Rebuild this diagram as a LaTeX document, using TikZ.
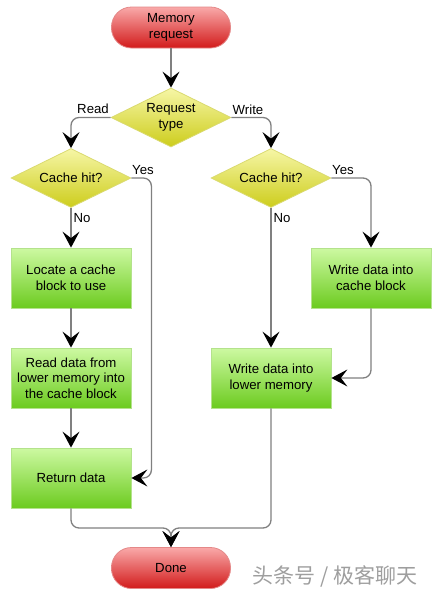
\documentclass[tikz,border=0pt]{standalone}
\usepackage{fontspec}
\setmainfont{Liberation Sans}
\newfontfamily\cjkfont{Noto Sans CJK SC}
\usetikzlibrary{shapes.geometric,arrows.meta,calc}
\definecolor{redtop}{HTML}{F9A9A9}
\definecolor{redbot}{HTML}{D21B1B}
\definecolor{redline}{HTML}{E48888}
\definecolor{yeltop}{HTML}{F6F6A6}
\definecolor{yelbot}{HTML}{CDCD1C}
\definecolor{yelline}{HTML}{DADA70}
\definecolor{grntop}{HTML}{CDF9A2}
\definecolor{grnbot}{HTML}{6CCB1F}
\definecolor{grnline}{HTML}{B4E28C}
\definecolor{conn}{HTML}{808080}
\begin{document}
\begin{tikzpicture}[x=1pt,y=-1pt,
  every node/.style={font=\fontsize{13.2}{15.5}\selectfont, text=black},
  lowered/.style={execute at begin node={\vspace*{3pt}}},
  term/.style={rectangle, rounded corners=20pt, minimum width=119pt, minimum height=41pt,
    draw=redline, line width=0.8pt, top color=redtop, bottom color=redbot, align=center, inner sep=0pt, lowered},
  decide/.style={diamond, shape aspect=2, minimum width=120pt, minimum height=59pt,
    draw=yelline, line width=0.8pt, top color=yeltop, bottom color=yelbot, align=center, inner sep=0pt, lowered},
  proc/.style={rectangle, minimum width=120pt, minimum height=60pt,
    draw=grnline, line width=0.8pt, top color=grntop, bottom color=grnbot, align=center, inner sep=0pt, lowered},
  conline/.style={draw=conn, line width=1.3pt, rounded corners=8pt},
  arr/.style={conline, -{Stealth[length=16pt, width=17pt, inset=6.5pt, color=black, fill=black]}},
  lbl/.style={inner sep=0pt}
]
\useasboundingbox (0,0) rectangle (438,595);
\node[term] (mem) at (171,27.5) {Memory\\request};
\node[decide] (req) at (171,117.5) {Request\\type};
\node[decide] (lc) at (71,178) {Cache hit?};
\node[decide] (rc) at (271,178) {Cache hit?};
\node[proc] (loc) at (71,278) {Locate a cache\\block to use};
\node[proc] (rdm) at (71,378) {Read data from\\lower memory into\\the cache block};
\node[proc] (ret) at (71,478) {Return data};
\node[proc] (wcb) at (371,278) {Write data into\\cache block};
\node[proc] (wlm) at (271,378) {Write data into\\lower memory};
\node[term] (done) at (171,568) {Done};
\coordinate (merge) at (171,528);

\draw[arr] (mem.south) -- (req.north);
\draw[arr] (req.west) -| (lc.north);
\draw[arr] (req.east) -| (rc.north);
\draw[arr] (lc.south) -- (loc.north);
\draw[arr] (loc.south) -- (rdm.north);
\draw[arr] (rdm.south) -- (ret.north);
\draw[arr] (lc.east) -- ++(20,0) |- (ret.east);
\draw[arr] (rc.east) -| (wcb.north);
\draw[arr] (rc.south) -- (wlm.north);
\draw[arr] (wcb.south) |- (wlm.east);
\draw[arr] (ret.south) |- (merge) -- (done.north);
\draw[arr] (wlm.south) |- (merge) -- (done.north);

\node[lbl] (lread) at (93,109) {Read};
\node[lbl] (lwrite) at (248,110) {Write};
\node[lbl] (lyes1) at (143,170) {Yes};
\node[lbl] (lno1) at (82,218) {No};
\node[lbl] (lyes2) at (343,170) {Yes};
\node[lbl] (lno2) at (282,218) {No};

\node[lbl, font=\cjkfont\fontsize{21}{22}\selectfont, text=black!38] (wm) at (335,576) {头条号 / 极客聊天};
\end{tikzpicture}
\end{document}
